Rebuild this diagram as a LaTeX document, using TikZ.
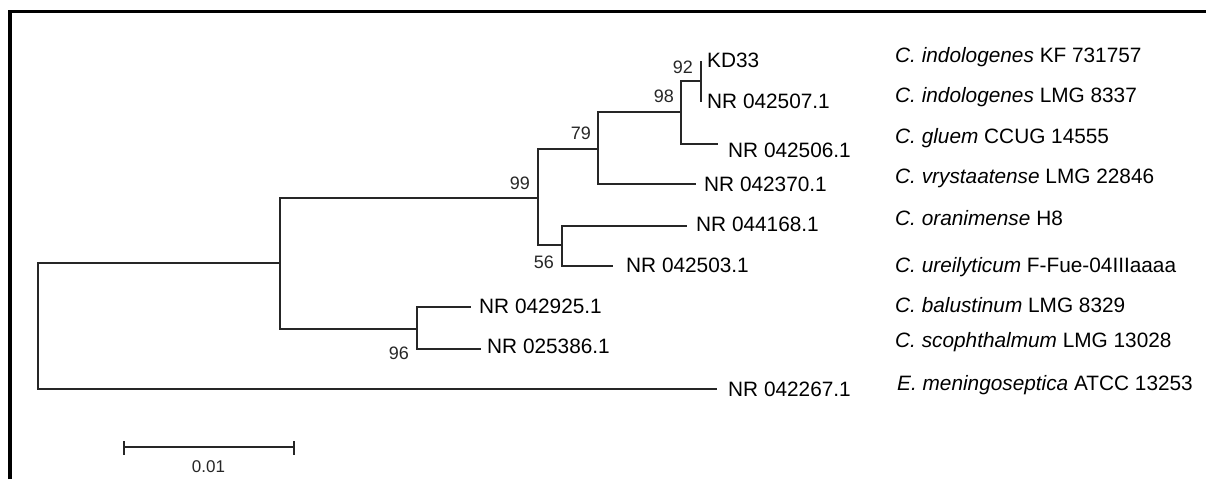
\documentclass[tikz,border=0pt]{standalone}
\usepackage{fontspec}
\setmainfont{Liberation Sans}
\begin{document}
\begin{tikzpicture}[x=1pt,y=-1pt,
  br/.style={line width=1.6pt, draw=black!85},
  leaf/.style={anchor=base west, inner sep=0pt, font=\fontsize{20.8}{24}\selectfont},
  spc/.style={anchor=base west, inner sep=0pt, font=\fontsize{20.8}{24}\selectfont},
  boot/.style={anchor=base east, inner sep=0pt, font=\fontsize{18}{21}\selectfont, text=black!85},
  scl/.style={anchor=base, inner sep=0pt, font=\fontsize{17}{20}\selectfont, text=black!85}]
\useasboundingbox (0,0) rectangle (1206,479);
% frame
\draw[line width=3.5pt] (10,479) -- (10,11.5) -- (1206,11.5);
% internal nodes
\coordinate (r) at (38,300);
\coordinate (A) at (280,263);
\coordinate (B) at (538,198);
\coordinate (C) at (598,149);
\coordinate (D) at (681,112);
\coordinate (E) at (701,81);
\coordinate (F) at (562,245);
\coordinate (G) at (417,329);
% tips
\coordinate (tKD) at (701,61);
\coordinate (t507) at (701,102);
\coordinate (t506) at (718,144);
\coordinate (t370) at (696,184);
\coordinate (t168) at (687,226);
\coordinate (t503) at (613,266);
\coordinate (t925) at (471,307);
\coordinate (t386) at (481,349);
\coordinate (t267) at (717,389);
% branches
\draw[br] (r) |- (A);
\draw[br] (r) |- (t267);
\draw[br] (A) |- (B);
\draw[br] (A) |- (G);
\draw[br] (B) |- (C);
\draw[br] (B) |- (F);
\draw[br] (C) |- (D);
\draw[br] (C) |- (t370);
\draw[br] (D) |- (E);
\draw[br] (D) |- (t506);
\draw[br] (E) |- (tKD);
\draw[br] (E) |- (t507);
\draw[br] (F) |- (t168);
\draw[br] (F) |- (t503);
\draw[br] (G) |- (t925);
\draw[br] (G) |- (t386);
% bootstrap values
\node[boot] (b92) at (693,73) {92};
\node[boot] (b98) at (674,102) {98};
\node[boot] (b79) at (591,139) {79};
\node[boot] (b99) at (530,189) {99};
\node[boot] (b56) at (554,268) {56};
\node[boot] (b96) at (409,359) {96};
% leaf labels
\node[leaf] (lKD) at (707,67) {KD33};
\node[leaf] (l507) at (707,108) {NR 042507.1};
\node[leaf] (l506) at (728,157) {NR 042506.1};
\node[leaf] (l370) at (704,191) {NR 042370.1};
\node[leaf] (l168) at (696,231) {NR 044168.1};
\node[leaf] (l503) at (626,272) {NR 042503.1};
\node[leaf] (l925) at (479,313) {NR 042925.1};
\node[leaf] (l386) at (487,353) {NR 025386.1};
\node[leaf] (l267) at (728,396) {NR 042267.1};
% species names
\node[spc] (s1) at (895,62) {\textit{C. indologenes} KF 731757};
\node[spc] (s2) at (895,102) {\textit{C. indologenes} LMG 8337};
\node[spc] (s3) at (895,143) {\textit{C. gluem} CCUG 14555};
\node[spc] (s4) at (895,183) {\textit{C. vrystaatense} LMG 22846};
\node[spc] (s5) at (895,225) {\textit{C. oranimense} H8};
\node[spc] (s6) at (895,272) {\textit{C. ureilyticum} F-Fue-04IIIaaaa};
\node[spc] (s7) at (895,312) {\textit{C. balustinum} LMG 8329};
\node[spc] (s8) at (895,347) {\textit{C. scophthalmum} LMG 13028};
\node[spc] (s9) at (897,390) {\textit{E. meningoseptica} ATCC 13253};
% scale bar
\coordinate (sa) at (124,447);
\coordinate (sb) at (294,447);
\coordinate (sat) at (124,441);
\coordinate (sab) at (124,455);
\coordinate (sbt) at (294,441);
\coordinate (sbb) at (294,455);
\draw[br] (sa) -- (sb);
\draw[br] (sat) -- (sab);
\draw[br] (sbt) -- (sbb);
\node[scl] (sl) at (208.5,472) {0.01};
\end{tikzpicture}
\end{document}
